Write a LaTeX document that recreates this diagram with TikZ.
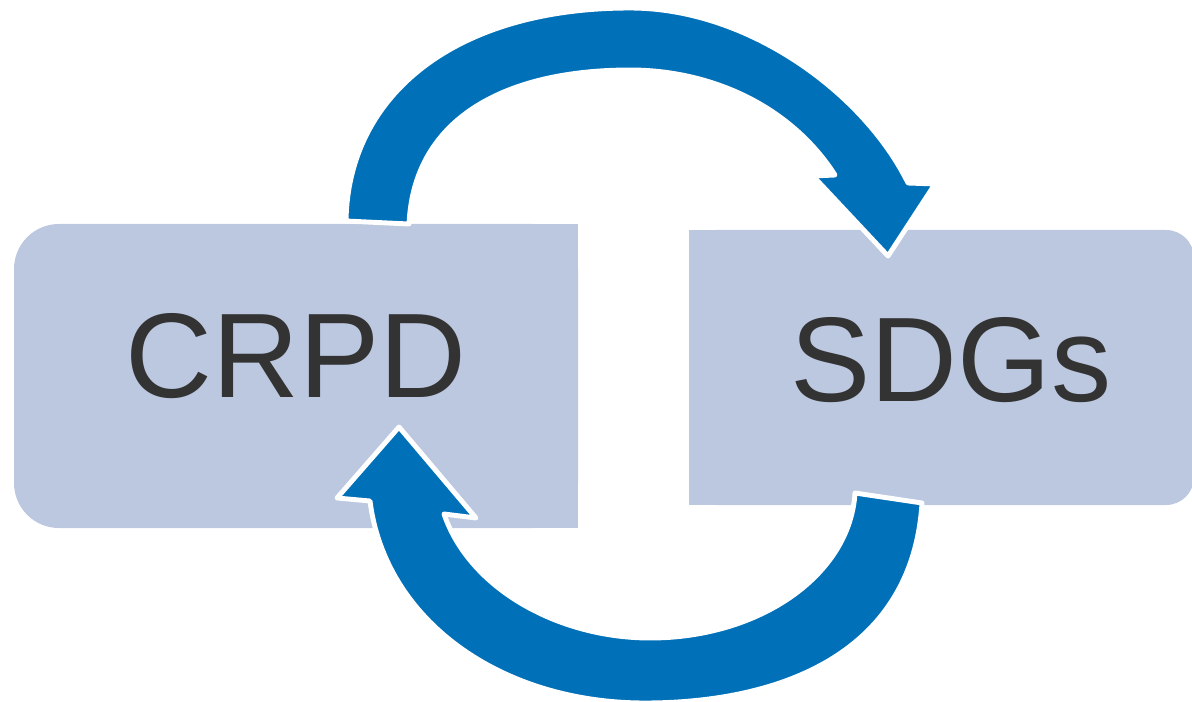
\documentclass[tikz,border=0pt]{standalone}
\usepackage{fontspec}
\setmainfont{Liberation Sans}
\definecolor{panelblue}{RGB}{188,200,224}
\definecolor{arrowblue}{RGB}{0,112,184}
\definecolor{textgray}{RGB}{51,51,51}

\begin{document}
\begin{tikzpicture}[x = 0.02cm, y = -0.02cm,
                    panel/.style = {fill = panelblue},
                    turn/.style = {fill = arrowblue, draw = white, line width = 2.8pt, line join = round},
                    word/.style = {anchor = base, text = textgray, inner sep = 0pt,
                                   font = \fontsize{68.5}{80}\selectfont}]
      \useasboundingbox (0, 0) rectangle (1192, 702);

      \fill [panel, rounded corners = 0.9cm] (14, 224) rectangle (578, 528);
      \fill [panel] (300, 224) rectangle (578, 528);
      \fill [panel, rounded corners = 0.56cm] (689, 230) rectangle (1194, 505);
      \fill [panel] (689, 230) rectangle (900, 505);

      \node [word] (crpd) at (296, 397) {CRPD};
      \node [word] (sdgs) at (951, 401) {SDGs};

      \filldraw [turn] (346, 221) .. controls (348, 95) and (455, 8) .. (630, 8)
            .. controls (750, 8) and (865, 95) .. (908, 183)
            -- (935, 184) -- (888, 256) -- (813, 176) -- (835, 175)
            .. controls (790, 105) and (710, 70) .. (630, 70)
            .. controls (510, 70) and (414, 115) .. (409, 224) -- cycle;

      \filldraw [turn] (922, 503) .. controls (912, 660) and (770, 703) .. (645, 703)
            .. controls (500, 703) and (385, 620) .. (370, 501)
            -- (337, 498) -- (399, 427) -- (476, 518) -- (444, 514)
            .. controls (470, 590) and (560, 638) .. (650, 638)
            .. controls (760, 638) and (850, 575) .. (855, 493) -- cycle;
\end{tikzpicture}
\end{document}
